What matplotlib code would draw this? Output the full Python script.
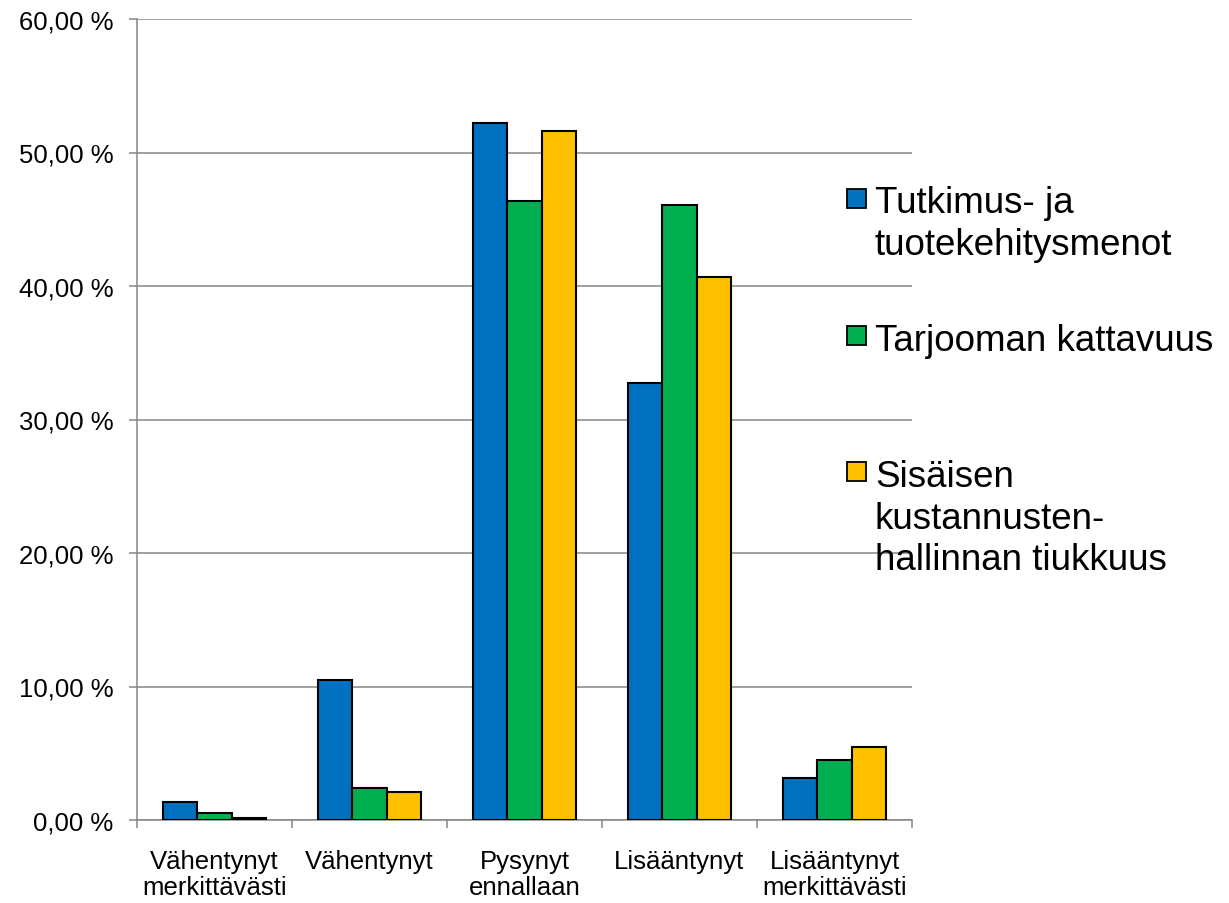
import numpy as np
import matplotlib
matplotlib.use("Agg")
import matplotlib.pyplot as plt
from matplotlib.patches import Rectangle
from matplotlib.ticker import FuncFormatter, MultipleLocator

plt.rcParams["font.family"] = ["Liberation Sans", "DejaVu Sans"]

categories = ["Vähentynyt\nmerkittävästi", "Vähentynyt", "Pysynyt\nennallaan",
              "Lisääntynyt", "Lisääntynyt\nmerkittävästi"]
series = ["Tutkimus- ja\ntuotekehitysmenot", "Tarjooman kattavuus",
          "Sisäisen\nkustannusten-\nhallinnan tiukkuus"]
tutkimus = [1.38, 10.52, 52.2, 32.7, 3.15]
tarjooma = [0.50, 2.43, 46.4, 46.1, 4.5]
kustannus = [0.15, 2.1, 51.6, 40.7, 5.45]
colors = ["#0070C0", "#00B050", "#FFC000"]

fig = plt.figure(figsize=(12.29, 9.04), dpi=100)
ax = fig.add_axes([137 / 1229, 83 / 904, 775 / 1229, 801 / 904])

x = np.arange(len(categories))
w = 0.222
for i, (vals, c) in enumerate(zip([tutkimus, tarjooma, kustannus], colors)):
    ax.bar(x + (i - 1) * w, vals, w, color=c, edgecolor="black", lw=1.5, zorder=3)

ax.set_xlim(-0.5, len(categories) - 0.5)
ax.set_ylim(0, 60)
ax.yaxis.set_major_locator(MultipleLocator(10))
ax.yaxis.set_major_formatter(FuncFormatter(lambda v, p: f"{v:.2f} %".replace(".", ",")))
ax.grid(axis="y", color="#868686", lw=1.1, zorder=0)
ax.set_xticks(x)
ax.set_xticklabels(categories, fontsize=18.5, linespacing=1.1)
ax.set_xticks(np.arange(-0.5, len(categories)), minor=True)
ax.tick_params(axis="x", which="major", length=0, pad=21)
ax.tick_params(axis="x", which="minor", length=6, width=1.1, color="#868686")
ax.tick_params(axis="y", length=6, width=1.1, color="#868686", labelsize=18.5, pad=11)
for s in ["top", "right"]:
    ax.spines[s].set_visible(False)
for s in ["left", "bottom"]:
    ax.spines[s].set_color("#868686")
    ax.spines[s].set_linewidth(1.1)

# legend, drawn by hand so the marker sits at the first text line
box_top = [190, 327, 463]
text_top = [186, 324, 460]
for lab, c, bt, tt in zip(series, colors, box_top, text_top):
    fig.add_artist(Rectangle((847 / 1229, 1 - (bt + 19) / 904), 19 / 1229, 19 / 904,
                             transform=fig.transFigure, facecolor=c,
                             edgecolor="black", lw=1.3))
    fig.text(875 / 1229, 1 - tt / 904, lab, fontsize=26.5, va="top",
             ha="left", linespacing=1.25)

fig.savefig("out.png")
